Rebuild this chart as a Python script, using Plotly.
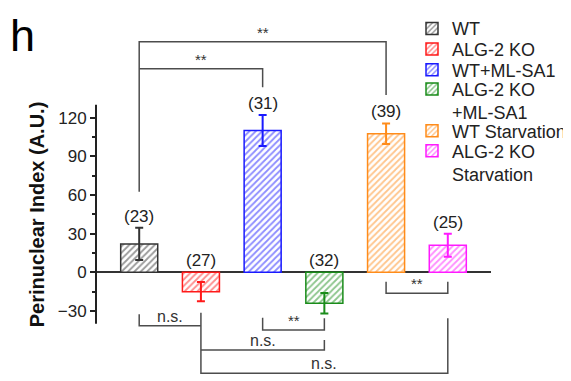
import plotly.graph_objects as go

# ---------------- data ----------------
groups = ["WT", "ALG-2 KO", "WT+ML-SA1", "ALG-2 KO<br>+ML-SA1", "WT Starvation", "ALG-2 KO<br>Starvation"]
means = [22, -15, 110, -24, 107.5, 21]
errors = [12.5, 7.5, 12, 8, 8, 9]
n_cells = ["(23)", "(27)", "(31)", "(32)", "(39)", "(25)"]
colors = ["#333333", "#ff1a1a", "#1a1aff", "#1a8c1a", "#ff8c1a", "#ff1aff"]
ytick_vals = [-30, 0, 30, 60, 90, 120]

# significance brackets: (left group, right group, label)
comparisons = [(1, 5, "**"), (1, 3, "**"), (1, 2, "n.s."), (3, 4, "**"),
               (2, 4, "n.s."), (2, 6, "n.s."), (5, 6, "**")]

# ---------------- layout geometry ----------------
OFF = 8  # page body margin offset
W, H = 571 - OFF, 381 - OFF
ML, MR, MT, MB = 96 - OFF, 80, 30 - OFF, 3
YR = [-82, 188]
XR = [0.3, 6.7]
PW, PH = W - ML - MR, H - MT - MB

def px_x(px):  # screen px -> paper
    return (px - OFF - ML) / PW

def px_y(py):
    return (H - MB - (py - OFF)) / PH

FONT = "Liberation Sans, Arial, sans-serif"
LINE = "#4d4d4d"

# bracket geometry (y of horizontal bar, y end of left leg, y end of right leg)
bracket_geom = [
    (178.9, 62.5, 137.5),
    (158.0, 158.0, 143.5),
    (-41.4, -32.6, -41.4),
    (-44.8, -35.2, -35.7),
    (-60.3, -60.3, -52.5),
    (-78.4, -31.3, -35.7),
    (-16.3, -7.3, -7.3),
]

fig = go.Figure()
xs = list(range(1, len(groups) + 1))
for i, (g, m, e, c) in enumerate(zip(groups, means, errors, colors)):
    fig.add_trace(go.Bar(
        x=[xs[i]], y=[m], name=g, width=0.6,
        marker=dict(color="white", line=dict(color=c, width=1.5),
                    pattern=dict(shape="/", fgcolor=c, bgcolor="white", size=4.5, solidity=0.4)),
        error_y=dict(type="data", array=[e], color=c, thickness=2, width=4),
        legend="legend" if i == 0 else f"legend{i+1}",
        showlegend=True,
    ))

# n labels
for x, m, e, t in zip(xs, means, errors, n_cells):
    top = m + e if m > 0 else 0
    fig.add_annotation(x=x, y=top, text=t, showarrow=False, yanchor="bottom",
                       font=dict(family=FONT, size=17, color="#222"), yshift=0)

# brackets
for (a, b, lab), (yb, yl, yr) in zip(comparisons, bracket_geom):
    path = f"M {a},{yl} L {a},{yb} L {b},{yb} L {b},{yr}"
    fig.add_shape(type="path", path=path, xref="x", yref="y",
                  line=dict(color=LINE, width=1.5))
    size = 15 if lab == "**" else 16
    fig.add_annotation(x=(a + b) / 2, y=yb, text=lab, showarrow=False, yanchor="bottom",
                       font=dict(family=FONT, size=size, color="#333"), yshift=-1)

# y axis line
fig.add_shape(type="line", xref="paper", yref="y", x0=0, x1=0, y0=-40, y1=130,
              line=dict(color="#222", width=2))

# axis title
fig.add_annotation(xref="paper", yref="y", x=px_x(37), y=45, xanchor="center", yanchor="middle",
                   text="<b>Perinuclear Index (A.U.)</b>",
                   textangle=-90, showarrow=False, font=dict(family=FONT, size=20, color="#111"))
# panel letter
fig.add_annotation(xref="paper", yref="paper", x=px_x(8), y=px_y(8), xanchor="left", yanchor="top",
                   text="h", showarrow=False, font=dict(family=FONT, size=45, color="#000"))

# legends
leg_rows = [27.7, 48.3, 69.0, 88.3, 130.0, 150.0]
legends = {}
for i, r in enumerate(leg_rows):
    key = "legend" if i == 0 else f"legend{i+1}"
    legends[key] = dict(x=px_x(412), y=px_y(r - 17.5), xanchor="left", yanchor="top",
                        font=dict(family=FONT, size=18, color="#222"), bgcolor="rgba(0,0,0,0)",
                        valign="top", borderwidth=0)

fig.update_layout(
    width=W, height=H,
    margin=dict(l=ML, r=MR, t=MT, b=MB, autoexpand=False),
    plot_bgcolor="white", paper_bgcolor="white",
    barmode="overlay", showlegend=True,
    xaxis=dict(range=XR, visible=False),
    yaxis=dict(range=YR, tickvals=ytick_vals, ticks="outside", ticklen=5, tickwidth=1.5,
               tickcolor="#222", showgrid=False, showline=False,
               zeroline=True, zerolinecolor="#333", zerolinewidth=2,
               tickfont=dict(family=FONT, size=17, color="#222"),
               minor=dict(tickvals=[-15, 15, 45, 75, 105], ticks="outside", ticklen=3,
                          tickwidth=1.5, tickcolor="#222", showgrid=False)),
    **legends,
)

fig.write_html("out.html")
